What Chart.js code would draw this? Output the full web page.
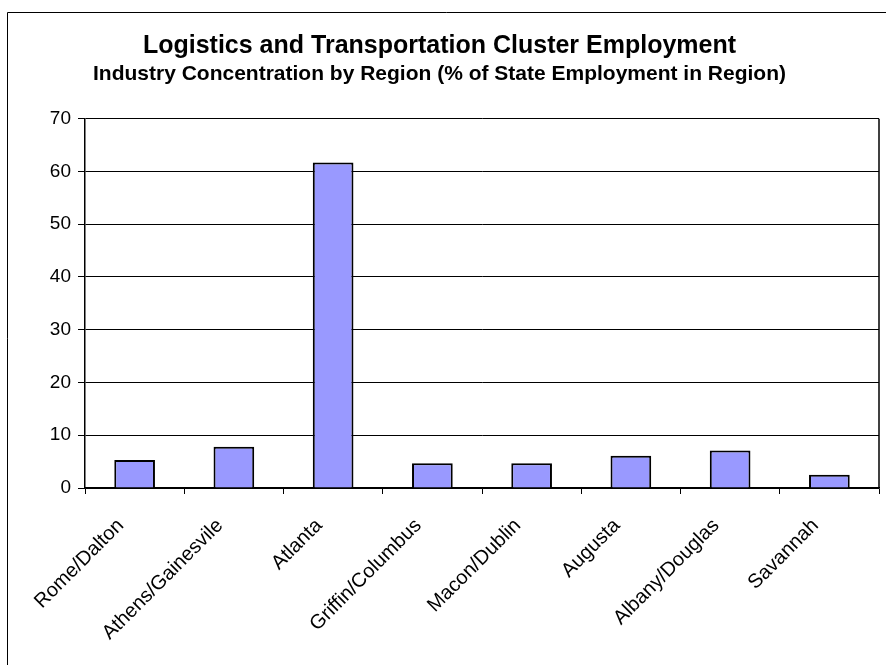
<!DOCTYPE html>
<html>
<head>
<meta charset="utf-8">
<script src="https://cdn.jsdelivr.net/npm/chart.js@4.4.0/dist/chart.umd.min.js"></script>
<style>
  html, body { margin: 0; padding: 0; background: #fff; }
  canvas { display: block; }
</style>
</head>
<body>
<canvas id="myChart" width="886" height="665"></canvas>
<script>
const regions = ['Rome/Dalton', 'Athens/Gainesvile', 'Atlanta', 'Griffin/Columbus',
  'Macon/Dublin', 'Augusta', 'Albany/Douglas', 'Savannah'];
const employmentShare = [5.3, 7.8, 61.7, 4.7, 4.7, 6.1, 7.1, 2.5];
const yTicks = [0, 10, 20, 30, 40, 50, 60, 70];

const fontFamily = '"Liberation Sans", Arial, sans-serif';

// white background, the outer frame and the right edge of the plot box
const frame = {
  id: 'frame',
  beforeDraw(chart) {
    const ctx = chart.ctx;
    ctx.save();
    ctx.fillStyle = '#fff';
    ctx.fillRect(0, 0, chart.width, chart.height);
    ctx.strokeStyle = '#000';
    ctx.lineWidth = 1;
    ctx.beginPath();
    ctx.moveTo(7.5, chart.height);
    ctx.lineTo(7.5, 12.5);
    ctx.lineTo(chart.width, 12.5);
    ctx.stroke();
    ctx.restore();
  },
  afterDatasetsDraw(chart) {
    const a = chart.chartArea;
    const ctx = chart.ctx;
    ctx.save();
    ctx.strokeStyle = '#000';
    ctx.lineWidth = 1.5;
    ctx.beginPath();
    ctx.moveTo(a.right, a.top);
    ctx.lineTo(a.right, a.bottom);
    ctx.stroke();
    ctx.restore();
  }
};

const ctx = document.getElementById('myChart').getContext('2d');
new Chart(ctx, {
  type: 'bar',
  data: {
    labels: regions,
    datasets: [{
      data: employmentShare,
      backgroundColor: '#9999ff',
      borderColor: '#000',
      borderWidth: 2,
      barPercentage: 0.41,
      categoryPercentage: 1
    }]
  },
  options: {
    responsive: false,
    animation: false,
    devicePixelRatio: 1,
    layout: { padding: { top: 12, right: 7, left: 0, bottom: 0 } },
    plugins: {
      legend: { display: false },
      tooltip: { enabled: false },
      title: {
        display: true,
        text: 'Logistics and Transportation Cluster Employment',
        color: '#000',
        font: { family: fontFamily, size: 25, weight: 'bold' },
        padding: { top: 19, bottom: 0 }
      },
      subtitle: {
        display: true,
        text: 'Industry Concentration by Region (% of State Employment in Region)',
        color: '#000',
        font: { family: fontFamily, size: 21, weight: 'bold' },
        padding: { top: 1, bottom: 31.5 }
      }
    },
    scales: {
      x: {
        afterFit(axis) { axis.height = 177; },
        grid: {
          offset: true,
          drawOnChartArea: false,
          drawTicks: true,
          tickLength: 6,
          color: '#000'
        },
        border: { color: '#000', width: 1.5 },
        ticks: {
          color: '#000',
          minRotation: 45,
          maxRotation: 45,
          padding: 20,
          labelOffset: -14,
          font: { family: fontFamily, size: 20 }
        }
      },
      y: {
        min: 0,
        max: 70,
        afterFit(axis) { axis.width = 85; },
        afterBuildTicks(axis) { axis.ticks = yTicks.map(v => ({ value: v })); },
        grid: {
          color: '#000',
          tickLength: 7,
          lineWidth: 1
        },
        border: { color: '#000', width: 1.5 },
        ticks: {
          color: '#000',
          padding: 7,
          font: { family: fontFamily, size: 19 }
        }
      }
    }
  },
  plugins: [frame]
});
</script>
</body>
</html>
